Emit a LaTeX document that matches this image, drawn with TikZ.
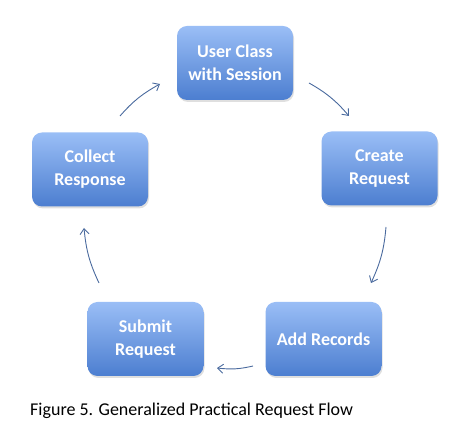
\documentclass[tikz,border=0pt]{standalone}
\usepackage{fontspec}
\setmainfont{Carlito}
\usetikzlibrary{arrows.meta,shadows,bending}
\definecolor{boxtop}{HTML}{9ABEF6}
\definecolor{boxbottom}{HTML}{4C7ED0}
\definecolor{flowline}{HTML}{4A6A9E}
\tikzset{
    stage/.style={
        rectangle,
        rounded corners=10pt,
        minimum width=116pt,
        minimum height=74pt,
        top color=boxtop,
        bottom color=boxbottom,
        draw=none,
        text=white,
        align=center,
        font=\fontsize{18}{23}\selectfont\bfseries,
        drop shadow={opacity=0.25, shadow xshift=1pt, shadow yshift=-2pt}
    },
    flow/.style={
        draw=flowline,
        line width=0.9pt,
        -{Straight Barb[length=5.5pt, width=9pt]}
    }
}

\begin{document}
\begin{tikzpicture}[x=1pt,y=1pt]
  \useasboundingbox (0,0) rectangle (466,436);

  % Stages
  \node[stage] (user) at (235,373) {User Class\\with Session};
  \node[stage] (create) at (379.5,267.5) {Create\\Request};
  \node[stage] (add) at (323.5,97) {Add Records};
  \node[stage] (submit) at (145.5,97) {Submit\\Request};
  \node[stage] (collect) at (90,266.5) {Collect\\Response};

  % Arrow ends
  \coordinate (uc1) at (309,353);
  \coordinate (uc2) at (349,320);
  \coordinate (ca1) at (386,209);
  \coordinate (ca2) at (371,153);
  \coordinate (as1) at (253,70);
  \coordinate (as2) at (217,68);
  \coordinate (sc1) at (99,153);
  \coordinate (sc2) at (84,208);
  \coordinate (cu1) at (120,320);
  \coordinate (cu2) at (160,352);

  % Flow
  \draw[flow] (uc1) to[bend left=10] (uc2);
  \draw[flow] (ca1) to[bend left=10] (ca2);
  \draw[flow] (as1) to[bend left=10] (as2);
  \draw[flow] (sc1) to[bend left=10] (sc2);
  \draw[flow] (cu1) to[bend left=10] (cu2);

  % Caption
  \node[anchor=base west, inner sep=0pt, font=\fontsize{18}{23}\selectfont] (caption) at (30,20)
    {Figure 5. Generalized Practical Request Flow};
\end{tikzpicture}
\end{document}
